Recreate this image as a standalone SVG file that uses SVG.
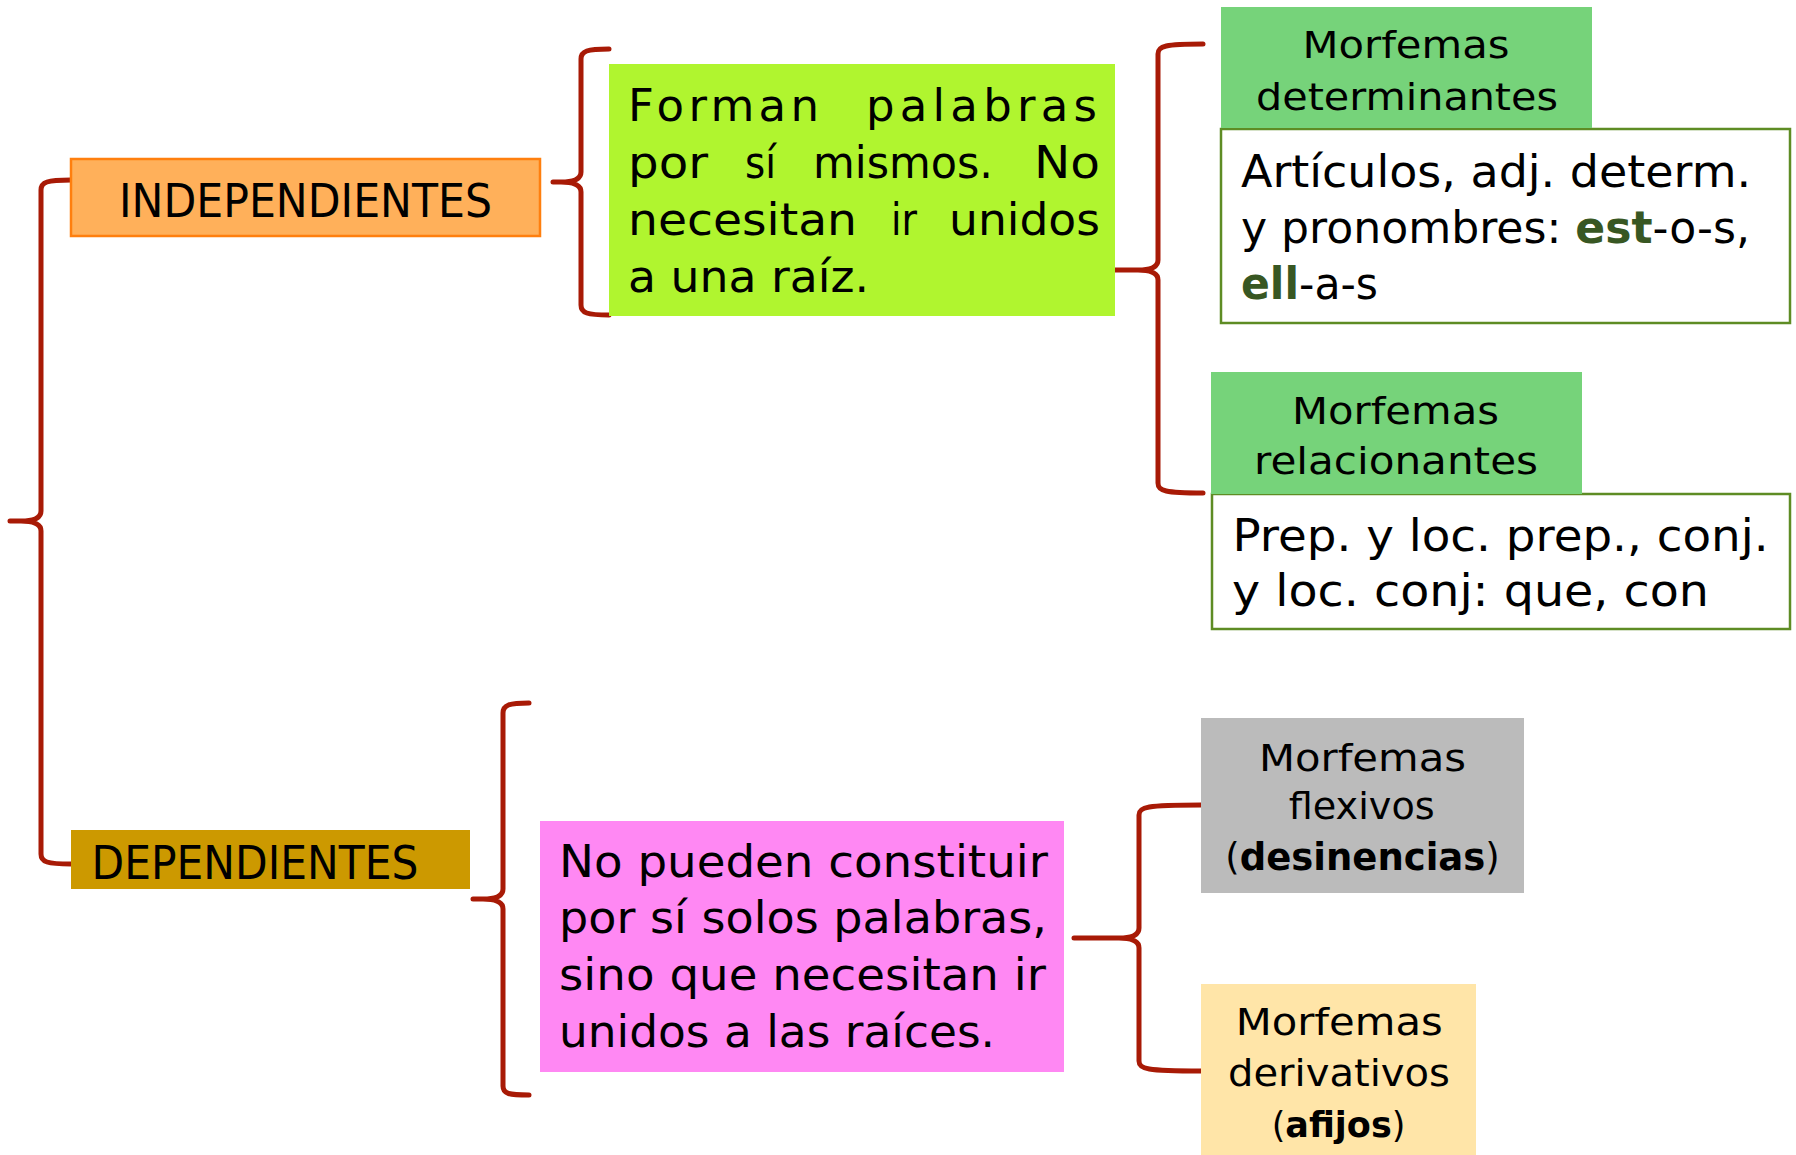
<svg xmlns="http://www.w3.org/2000/svg" width="1796" height="1155" viewBox="0 0 1796 1155">
<style>
text{font-family:"DejaVu Sans","Liberation Sans",sans-serif;fill:#000;}
.t45{font-size:45px;}
.t44{font-size:44px;}
.t38{font-size:38px;}
.t46{font-size:46px;}
.b{font-weight:bold;}
.dg{fill:#385723;font-weight:bold;}
.mid{text-anchor:middle;}
.brace{fill:none;stroke:#A81A06;stroke-width:5;stroke-linecap:round;stroke-linejoin:round;}
</style>
<rect width="1796" height="1155" fill="#fff"/>
<g id="connectors">
<path class="brace" d="M71,180 C47,180 41,182 41,190 L41,511 C41,518 33,521 21,521 L10,521 M21,521 C33,521 41,524 41,531 L41,854 C41,862 47,864 71,864"/>
<path class="brace" d="M609,49 C587,49 581,51 581,59 L581,172 C581,179 573,182 561,182 L553,182 M561,182 C573,182 581,185 581,192 L581,305 C581,313 587,315 609,315"/>
<path class="brace" d="M1203,44 C1165,44 1158,46 1158,54 L1158,260 C1158,267 1150,270 1138,270 L1115,270 M1138,270 C1150,270 1158,273 1158,280 L1158,483 C1158,491 1165,493 1203,493"/>
<path class="brace" d="M529,703 C509,703 503,705 503,713 L503,889 C503,896 495,899 483,899 L473,899 M483,899 C495,899 503,902 503,909 L503,1086 C503,1094 509,1095 529,1095"/>
<path class="brace" d="M1201,805 C1146,805 1139,807 1139,815 L1139,928 C1139,935 1131,938 1119,938 L1074,938 M1119,938 C1131,938 1139,941 1139,948 L1139,1061 C1139,1069 1146,1071 1201,1071"/>
</g>
<g id="independientes">
<rect x="71" y="159" width="469" height="77" fill="#FFB05A" stroke="#FF7F0E" stroke-width="2.5"/>
<text class="t46" x="119" y="217" textLength="373" lengthAdjust="spacingAndGlyphs">INDEPENDIENTES</text>
</g>
<g id="forman">
<rect x="609" y="64" width="506" height="252" fill="#B0F52F"/>
<text class="t45" x="628" y="120.5" textLength="191" lengthAdjust="spacing">Forman</text>
<text class="t45" x="866" y="120.5" textLength="231" lengthAdjust="spacing">palabras</text>
<text class="t45" x="628" y="178" textLength="80" lengthAdjust="spacingAndGlyphs">por</text>
<text class="t45" x="745" y="178" textLength="31" lengthAdjust="spacingAndGlyphs">sí</text>
<text class="t45" x="813" y="178" textLength="180" lengthAdjust="spacingAndGlyphs">mismos.</text>
<text class="t45" x="1034" y="178" textLength="66" lengthAdjust="spacingAndGlyphs">No</text>
<text class="t45" x="628" y="234.6" textLength="229" lengthAdjust="spacingAndGlyphs">necesitan</text>
<text class="t45" x="891" y="234.6" textLength="26" lengthAdjust="spacingAndGlyphs">ir</text>
<text class="t45" x="949" y="234.6" textLength="151" lengthAdjust="spacingAndGlyphs">unidos</text>
<text class="t45" x="628" y="291.6" textLength="241" lengthAdjust="spacingAndGlyphs">a una raíz.</text>
</g>
<g id="determinantes">
<rect x="1221" y="129" width="569" height="194" fill="#fff" stroke="#5E8C24" stroke-width="2.5"/>
<rect x="1221" y="7" width="371" height="121" fill="#76D37A"/>
<text class="t38" x="1302.5" y="58" textLength="207" lengthAdjust="spacingAndGlyphs">Morfemas</text>
<text class="t38" x="1256" y="110" textLength="302" lengthAdjust="spacingAndGlyphs">determinantes</text>
<text class="t45" x="1241" y="186.6" textLength="510" lengthAdjust="spacingAndGlyphs">Artículos, adj. determ.</text>
<text class="t45" x="1241" y="242.5" textLength="509" lengthAdjust="spacingAndGlyphs">y pronombres: <tspan class="dg">est</tspan>-o-s,</text>
<text class="t45" x="1241" y="299.3" textLength="137" lengthAdjust="spacingAndGlyphs"><tspan class="dg">ell</tspan>-a-s</text>
</g>
<g id="relacionantes">
<rect x="1212" y="494" width="578" height="135" fill="#fff" stroke="#5E8C24" stroke-width="2.5"/>
<rect x="1211" y="372" width="371" height="122" fill="#76D37A"/>
<text class="t38" x="1292" y="423.7" textLength="207" lengthAdjust="spacingAndGlyphs">Morfemas</text>
<text class="t38" x="1254" y="473.5" textLength="284" lengthAdjust="spacingAndGlyphs">relacionantes</text>
<text class="t45" x="1232.5" y="551.4" textLength="536" lengthAdjust="spacingAndGlyphs">Prep. y loc. prep., conj.</text>
<text class="t45" x="1232" y="606" textLength="477" lengthAdjust="spacingAndGlyphs">y loc. conj: que, con</text>
</g>
<g id="dependientes">
<rect x="71" y="830" width="399" height="59" fill="#CC9900"/>
<text class="t46" x="91.5" y="879" textLength="327" lengthAdjust="spacingAndGlyphs">DEPENDIENTES</text>
</g>
<g id="nopueden">
<rect x="540" y="821" width="524" height="251" fill="#FF88F3"/>
<text class="t44" x="559" y="877" textLength="489" lengthAdjust="spacingAndGlyphs">No pueden constituir</text>
<text class="t44" x="559" y="933" textLength="488" lengthAdjust="spacingAndGlyphs">por sí solos palabras,</text>
<text class="t44" x="559" y="990" textLength="487" lengthAdjust="spacingAndGlyphs">sino que necesitan ir</text>
<text class="t44" x="559" y="1047" textLength="436" lengthAdjust="spacingAndGlyphs">unidos a las raíces.</text>
</g>
<g id="flexivos">
<rect x="1201" y="718" width="323" height="175" fill="#BBBBBB"/>
<text class="t38" x="1259" y="770.7" textLength="207" lengthAdjust="spacingAndGlyphs">Morfemas</text>
<text class="t38" x="1288.7" y="819" textLength="146" lengthAdjust="spacingAndGlyphs">flexivos</text>
<text class="mid" x="1362.5" y="870" font-size="37">(<tspan class="b">desinencias</tspan>)</text>
</g>
<g id="derivativos">
<rect x="1201" y="984" width="275" height="171" fill="#FFE5A8"/>
<text class="t38" x="1235.7" y="1035" textLength="207" lengthAdjust="spacingAndGlyphs">Morfemas</text>
<text class="t38" x="1228" y="1086" textLength="222" lengthAdjust="spacingAndGlyphs">derivativos</text>
<text class="mid" x="1338.5" y="1136.7" font-size="35">(<tspan class="b">afijos</tspan>)</text>
</g>
</svg>
